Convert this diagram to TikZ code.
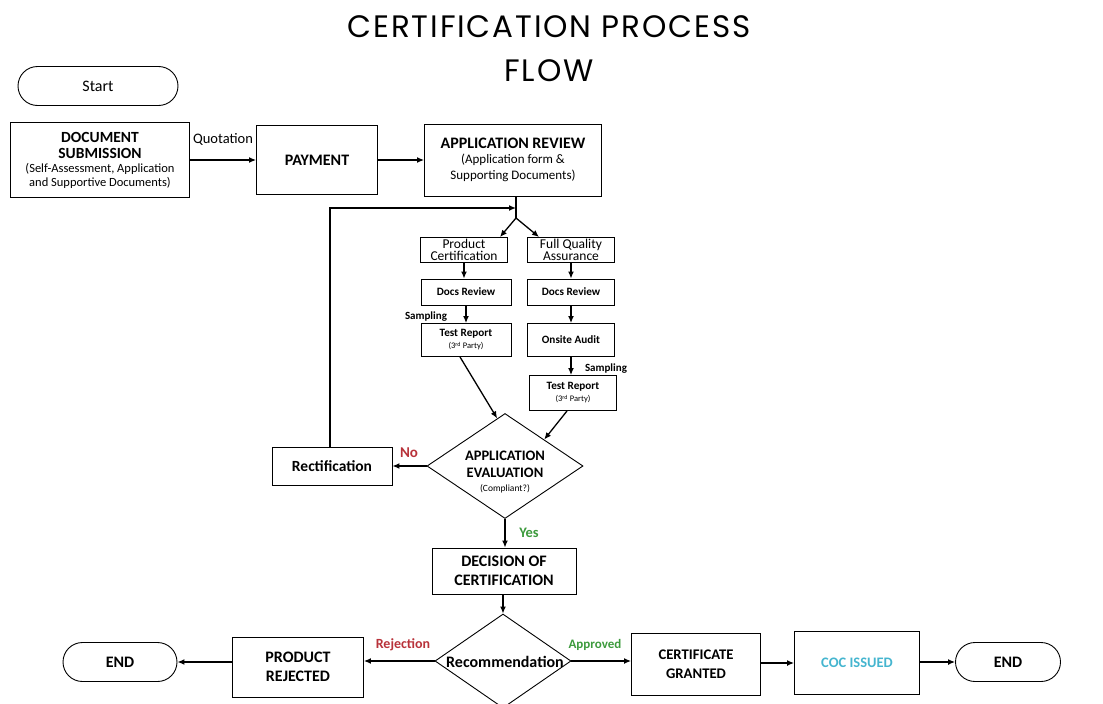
\documentclass[tikz,border=0pt]{standalone}
\usepackage{fontspec}
\setmainfont{Carlito}
\newfontfamily\titlefont{Poppins}[LetterSpace=6]
\usetikzlibrary{shapes.geometric,shapes.misc,arrows.meta,calc}
\definecolor{noRed}{HTML}{B8323A}
\definecolor{yesGreen}{HTML}{3C9A3C}
\definecolor{cocCyan}{HTML}{45B5CF}
\newcommand{\fs}[2]{\fontsize{#1}{#2}\selectfont}
\begin{document}
\begin{tikzpicture}[x=1pt,y=-1pt,
  box/.style={draw, line width=0.9pt, align=center, inner sep=1pt, font=\bfseries},
  sbox/.style={draw, line width=0.9pt, align=center, inner sep=1pt},
  term/.style={draw, line width=0.9pt, rounded rectangle, inner sep=1pt},
  dia/.style={draw, line width=0.9pt, diamond, inner sep=0pt},
  dtext/.style={align=center, inner sep=0pt, font=\bfseries},
  arr/.style={-{Latex[length=7pt,width=6pt]}, line width=1.3pt},
  ln/.style={line width=1.3pt},
  lbl/.style={font=\bfseries\fs{11}{13}, inner sep=0pt}]
\useasboundingbox (0,0) rectangle (1103,704);
% title
\node[font=\titlefont\fs{31}{44}, align=center, inner sep=0pt] (title) at (549,49) {CERTIFICATION PROCESS\\FLOW};
% top row
\node[term, minimum width=162pt, minimum height=39pt, font=\fs{16}{18}] (start) at (98,86) {Start};
\node[box, minimum width=179pt, minimum height=75pt, font=\bfseries\fs{12.5}{14}] (doc) at (100,160) {\fs{15.5}{18}DOCUMENT\\[2pt]\fs{15.5}{18}SUBMISSION\\[0pt]{\mdseries\fs{12.5}{14}(Self-Assessment, Application}\\{\mdseries\fs{12.5}{14}and Supportive Documents)}};
\node[box, minimum width=121pt, minimum height=69pt, font=\bfseries\fs{16}{18}] (pay) at (317,160) {PAYMENT};
\node[box, minimum width=177pt, minimum height=72pt, font=\bfseries\fs{13}{15}] (rev) at (513,160) {\fs{16}{18}APPLICATION REVIEW\\{\mdseries\fs{13}{15}(Application form \&}\\[1pt]{\mdseries\fs{13}{15}Supporting Documents)}};
\node[font=\fs{14.5}{16}, inner sep=0pt] (quot) at (223,139) {Quotation};
\draw[arr] (doc) -- (pay);
\draw[arr] (pay) -- (rev);
% split
\coordinate (J) at (516,218);
\coordinate (J2) at (516,208);
\draw[ln] (rev.south -| J) -- (J);
% branch boxes
\node[sbox, minimum width=87pt, minimum height=25pt, font=\fs{13.5}{12.5}] (pc) at (464,250) {Product\\Certification};
\node[sbox, minimum width=87pt, minimum height=25pt, font=\fs{13.5}{12.5}] (fq) at (571,250) {Full Quality\\Assurance};
\node[sbox, minimum width=90pt, minimum height=26pt, font=\bfseries\fs{11.2}{13}] (dr1) at (466,292) {Docs Review};
\node[sbox, minimum width=87pt, minimum height=26pt, font=\bfseries\fs{11.2}{13}] (dr2) at (571,292) {Docs Review};
\node[sbox, minimum width=90pt, minimum height=33pt, font=\bfseries\fs{11.2}{13}] (tr1) at (466,340) {Test Report\\[-1pt]{\mdseries\fs{8.5}{10}(3\textsuperscript{rd} Party)}};
\node[sbox, minimum width=87pt, minimum height=33pt, font=\bfseries\fs{11.2}{13}] (oa) at (571,340) {Onsite Audit};
\node[sbox, minimum width=87pt, minimum height=35pt, font=\bfseries\fs{11.2}{13}] (tr2) at (573,393) {Test Report\\[-1pt]{\mdseries\fs{8.5}{10}(3\textsuperscript{rd} Party)}};
\draw[arr] (J) -- ([xshift=-8pt]pc.north east);
\draw[arr] (J) -- ([xshift=12pt]fq.north west);
\draw[arr] (pc) -- (pc |- dr1.north);
\draw[arr] (fq) -- (dr2);
\draw[arr] (dr1) -- (tr1);
\draw[arr] (dr2) -- (oa);
\draw[arr] (oa.south) -- (oa.south |- tr2.north);
\node[lbl] (samp1) at (426,317) {Sampling};
\node[lbl] (samp2) at (606,369) {Sampling};
% evaluation
\node[dia, minimum width=156pt, minimum height=105pt] (eval) at (505,466) {};
\node[dtext, font=\bfseries\fs{14.5}{17}] (evalt) at (505,472) {APPLICATION\\EVALUATION\\[-3pt]{\mdseries\fs{9.5}{11}(Compliant?)}};
\draw[arr] ([xshift=-6pt]tr1.south) -- ($(eval.north)!0.1!(eval.west)$);
\draw[arr] ([xshift=-6pt]tr2.south) -- (eval.north east);
\node[box, minimum width=120pt, minimum height=38pt, font=\bfseries\fs{15.5}{18}] (rect) at (332,466) {Rectification};
\draw[arr] (eval.west) -- (rect.east);
\draw[arr] (rect.north -| 330,0) |- (J2);
\node[font=\bfseries\fs{15}{17}, text=noRed, inner sep=0pt] (no) at (409,453) {No};
% decision
\node[box, minimum width=144pt, minimum height=46pt, font=\bfseries\fs{16}{18}] (dec) at (504,571) {DECISION OF\\[1pt]CERTIFICATION};
\draw[arr] (eval.south) -- (dec.north -| eval.south);
\node[font=\bfseries\fs{14.5}{16}, text=yesGreen, inner sep=0pt] (yes) at (529,533) {Yes};
% recommendation
\node[dia, minimum width=136pt, minimum height=94pt] (rec) at (503,661) {};
\node[dtext, font=\bfseries\fs{16}{18}] (rect2) at (505,662) {Recommendation};
\draw[arr] (dec.south -| rec.north) -- (rec.north);
\node[box, minimum width=131pt, minimum height=60pt, font=\bfseries\fs{16}{18}] (rej) at (298,667) {PRODUCT\\[1pt]REJECTED};
\node[term, minimum width=116pt, minimum height=39pt, font=\bfseries\fs{16}{18}] (end1) at (120,662) {END};
\node[box, minimum width=129pt, minimum height=62pt, font=\bfseries\fs{14.7}{17}] (cg) at (696,664) {CERTIFICATE\\[2pt]GRANTED};
\node[box, minimum width=125pt, minimum height=63pt, font=\bfseries\fs{14.5}{17}, text=cocCyan] (coc) at (857,663) {COC ISSUED};
\node[term, minimum width=107pt, minimum height=39pt, font=\bfseries\fs{16}{18}] (end2) at (1008,662) {END};
\draw[arr] (rec.west) -- (rej.east |- rec.west);
\draw[arr] (rej.west |- end1.east) -- (end1.east);
\draw[arr] (rec.east) -- (cg.west |- rec.east);
\draw[arr] (cg.east |- coc.west) -- (coc.west);
\draw[arr] (coc.east |- end2.west) -- (end2.west);
\node[font=\bfseries\fs{14}{16}, text=noRed, inner sep=0pt] (rjl) at (403,645) {Rejection};
\node[font=\bfseries\fs{13}{15}, text=yesGreen, inner sep=0pt] (apl) at (595,645) {Approved};
\end{tikzpicture}
\end{document}
